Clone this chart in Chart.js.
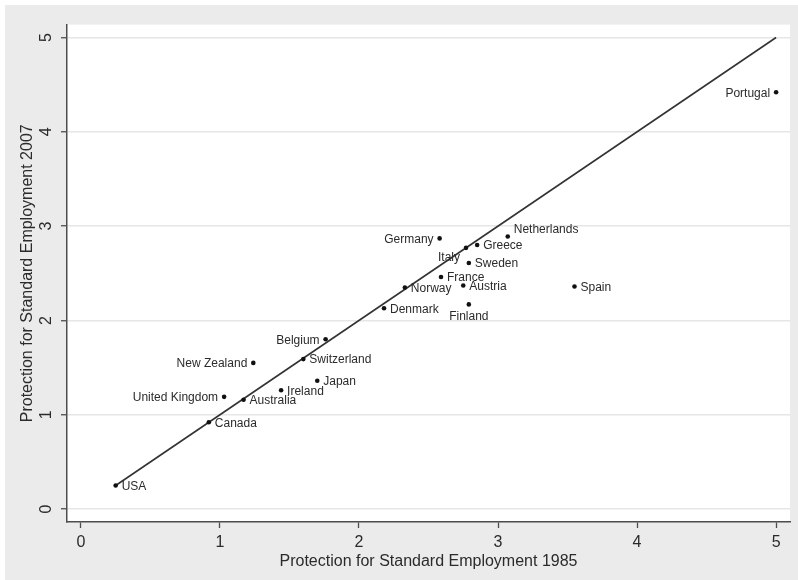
<!DOCTYPE html>
<html>
<head>
<meta charset="utf-8">
<script src="https://cdn.jsdelivr.net/npm/chart.js@4.4.1/dist/chart.umd.min.js"></script>
<style>
  html, body { margin: 0; padding: 0; background: #ffffff; }
  #frame { position: absolute; left: 5px; top: 5px; width: 793px; height: 575px; background: #ebebeb; }
  canvas { display: block; }
</style>
</head>
<body>
<div id="frame"><canvas id="epl" width="793" height="575"></canvas></div>
<script>
// Employment protection index for standard (regular) employment, 1985 vs 2007
const countries = ['USA', 'Canada', 'United Kingdom', 'Australia', 'Ireland', 'New Zealand',
  'Japan', 'Switzerland', 'Belgium', 'Denmark', 'Norway', 'France', 'Austria', 'Finland',
  'Germany', 'Italy', 'Sweden', 'Greece', 'Netherlands', 'Spain', 'Portugal'];
const epl1985 = [0.25, 0.92, 1.03, 1.17, 1.44, 1.24, 1.70, 1.60, 1.76, 2.18, 2.33, 2.59, 2.75, 2.79,
  2.58, 2.77, 2.79, 2.85, 3.07, 3.55, 5.00];
const epl2007 = [0.25, 0.92, 1.19, 1.16, 1.26, 1.55, 1.36, 1.59, 1.80, 2.13, 2.35, 2.46, 2.37, 2.17,
  2.87, 2.77, 2.61, 2.80, 2.89, 2.36, 4.42];
const xTicks = [0, 1, 2, 3, 4, 5];
const yTicks = [0, 1, 2, 3, 4, 5];

// 45-degree reference line spanning the observed 1985 range
const lineStart = Math.min(...epl1985);
const lineEnd = Math.max(...epl1985);

// clock position of each marker label (3 = right, 9 = left, 6 = below, ...)
const labelClock = {
  'United Kingdom': 9, 'New Zealand': 9, 'Belgium': 9, 'Germany': 9, 'Portugal': 9,
  'Finland': 6, 'Italy': 7, 'Netherlands': 2
};

const FONT = "'Liberation Sans', Arial, Helvetica, sans-serif";
const INK = '#2b2b2b';
const AXIS = '#4d4d4d';

const plotBackground = {
  id: 'plotBackground',
  beforeDraw(chart) {
    const { ctx, chartArea: a } = chart;
    ctx.save();
    ctx.fillStyle = '#ffffff';
    ctx.fillRect(a.left, a.top, a.right - a.left, a.bottom - a.top);
    ctx.restore();
  }
};

const markerLabels = {
  id: 'markerLabels',
  afterDatasetsDraw(chart) {
    const { ctx } = chart;
    const meta = chart.getDatasetMeta(1);
    ctx.save();
    ctx.font = '12px ' + FONT;
    ctx.fillStyle = INK;
    meta.data.forEach((pt, i) => {
      const name = countries[i];
      const clock = labelClock[name] || 3;
      let x = pt.x, y = pt.y, align = 'left';
      if (clock === 3) { x += 6; y += 1; }
      else if (clock === 9) { x -= 6; y += 1; align = 'right'; }
      else if (clock === 6) { y += 12; align = 'center'; }
      else if (clock === 7) { x -= 6; y += 10; align = 'right'; }
      else if (clock === 2) { x += 6; y -= 7; }
      ctx.textAlign = align;
      ctx.textBaseline = 'middle';
      ctx.fillText(name, x, y);
    });
    ctx.restore();
  }
};

new Chart(document.getElementById('epl'), {
  data: {
    datasets: [
      {
        type: 'line',
        data: [{ x: lineStart, y: lineStart }, { x: lineEnd, y: lineEnd }],
        borderColor: '#333333',
        borderWidth: 1.6,
        pointRadius: 0,
        fill: false,
        order: 2
      },
      {
        type: 'scatter',
        data: epl1985.map((v, i) => ({ x: v, y: epl2007[i] })),
        backgroundColor: '#111111',
        borderColor: '#111111',
        borderWidth: 0,
        pointRadius: 2.3,
        order: 1
      }
    ]
  },
  options: {
    responsive: false,
    animation: false,
    devicePixelRatio: 1,
    layout: { padding: { top: 18, right: 8, bottom: 0, left: 0 } },
    plugins: { legend: { display: false }, tooltip: { enabled: false } },
    scales: {
      x: {
        type: 'linear',
        min: -0.1,
        max: 5.1,
        afterBuildTicks: s => { s.ticks = xTicks.map(v => ({ value: v })); },
        afterFit: s => { s.height = 58; },
        grid: { drawOnChartArea: false, drawTicks: true, tickLength: 6, tickColor: AXIS, tickWidth: 1.3 },
        border: { display: true, color: AXIS, width: 1.5 },
        ticks: { color: INK, padding: 5, font: { family: FONT, size: 16 }, maxRotation: 0 },
        title: {
          display: true,
          text: 'Protection for Standard Employment 1985',
          color: INK,
          font: { family: FONT, size: 16 },
          padding: { top: 0, bottom: 9 }
        }
      },
      y: {
        type: 'linear',
        min: -0.137,
        max: 5.137,
        afterBuildTicks: s => { s.ticks = yTicks.map(v => ({ value: v })); },
        afterFit: s => { s.width = 62; },
        grid: { color: '#e6e6e6', lineWidth: 1.5, drawTicks: true, tickLength: 6, tickColor: AXIS, tickWidth: 1.3 },
        border: { display: true, color: AXIS, width: 1.5 },
        ticks: {
          color: INK,
          padding: 10,
          crossAlign: 'center',
          minRotation: 90,
          maxRotation: 90,
          font: { family: FONT, size: 16 }
        },
        title: {
          display: true,
          text: 'Protection for Standard Employment 2007',
          color: INK,
          font: { family: FONT, size: 16 },
          padding: { top: 13, bottom: 0 }
        }
      }
    }
  },
  plugins: [plotBackground, markerLabels]
});
</script>
</body>
</html>
